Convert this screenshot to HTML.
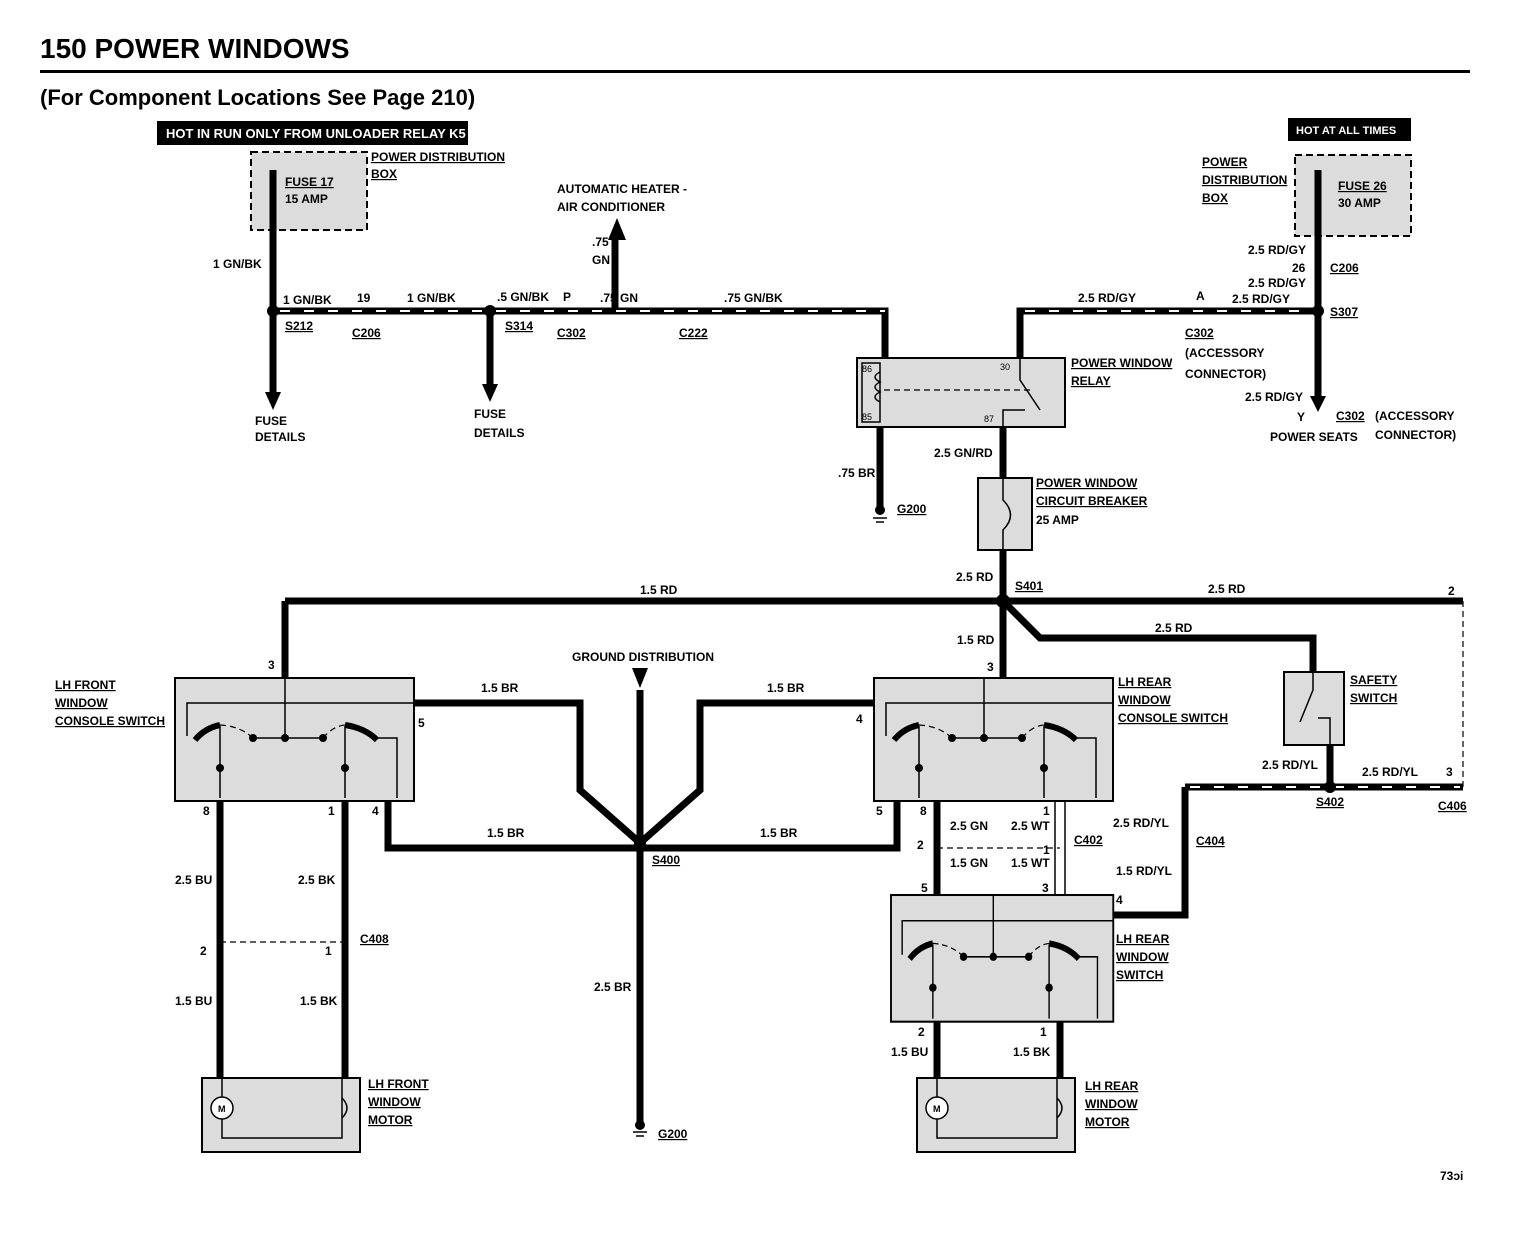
<!DOCTYPE html>
<html><head><meta charset="utf-8"><style>
body{margin:0;background:#fff}
svg{display:block;font-family:"Liberation Sans",sans-serif}
.t{font-size:12px;font-weight:bold;font-family:"Liberation Sans Narrow","Liberation Sans",sans-serif}
.u{text-decoration:underline}
.w{stroke:#000;stroke-width:7;fill:none}
.n{stroke:#000;stroke-width:1.5;fill:none}
.d{stroke:#000;stroke-width:1.2;fill:none;stroke-dasharray:6 4}
.b{fill:#dcdcdc;stroke:#000;stroke-width:2}
.s{stroke:#fff;stroke-width:2;stroke-dasharray:10 14;fill:none}
</style></head><body>
<svg width="1521" height="1238" viewBox="0 0 1521 1238">
<defs>
<g id="sw">
<rect class="b" x="0" y="0" width="239" height="123"/>
<path class="n" d="M110 0V58M12 58V25H239M45 120V48M170 120V48M200 60H222V120M78 60H148"/>
<path d="M20 62Q30 50 45 47" stroke="#000" stroke-width="6" fill="none"/>
<path d="M170 47Q190 50 202 62" stroke="#000" stroke-width="6" fill="none"/>
<path class="d" d="M45 47Q65 48 78 60M148 60Q158 48 170 47"/>
<circle cx="78" cy="60" r="4"/><circle cx="110" cy="60" r="4"/><circle cx="148" cy="60" r="4"/>
<circle cx="45" cy="90" r="4"/><circle cx="170" cy="90" r="4"/>
</g>
<g id="mot">
<rect class="b" x="0" y="0" width="158" height="74"/>
<path class="n" d="M20 0V60H140V0"/>
<circle cx="20" cy="30" r="11" fill="#fff" stroke="#000" stroke-width="1.5"/>
<text x="16" y="34" font-size="9" font-weight="bold">M</text>
<path class="n" d="M140 20Q150 30 140 40"/>
</g>
</defs>
<text x="40" y="58" font-size="28" font-weight="bold">150  POWER WINDOWS</text>
<rect x="40" y="70" width="1430" height="3"/>
<text x="40" y="105" font-size="22" font-weight="bold">(For Component Locations See Page 210)</text>
<rect x="157" y="121" width="311" height="24"/>
<text x="166" y="138" font-size="13" font-weight="bold" fill="#fff">HOT IN RUN ONLY FROM UNLOADER RELAY K5</text>
<rect x="1288" y="118" width="123" height="23"/>
<text x="1296" y="134" font-size="11" font-weight="bold" fill="#fff">HOT AT ALL TIMES</text>

<!-- fuse boxes -->
<rect x="251" y="152" width="116" height="78" fill="#dcdcdc" stroke="#000" stroke-width="2" stroke-dasharray="7 4"/>
<text class="t u" x="285" y="186">FUSE 17</text><text class="t" x="285" y="203" font-size="9">15 AMP</text>
<text class="t u" x="371" y="161">POWER DISTRIBUTION</text><text class="t u" x="371" y="178">BOX</text>
<rect x="1295" y="155" width="116" height="81" fill="#dcdcdc" stroke="#000" stroke-width="2" stroke-dasharray="7 4"/>
<text class="t u" x="1338" y="190">FUSE 26</text><text class="t" x="1338" y="207" font-size="9">30 AMP</text>
<text class="t u" x="1202" y="166">POWER</text><text class="t u" x="1202" y="184">DISTRIBUTION</text><text class="t u" x="1202" y="202">BOX</text>

<!-- top wires -->
<path class="w" d="M273 170V400M273 311H885V358M490 311V390M570 311H615V240M1020 358V311H1318M1318 170V400"/>
<path class="s" d="M280 311H885M1025 311H1312"/>
<polygon points="273,410 265,392 281,392"/><polygon points="490,402 482,384 498,384"/>
<polygon points="617,218 608,240 626,240"/><polygon points="1318,412 1310,396 1326,396"/>
<circle cx="273" cy="311" r="6"/><circle cx="490" cy="311" r="6"/><circle cx="1318" cy="311" r="6"/>
<text class="t" x="213" y="268">1 GN/BK</text><text class="t" x="283" y="304">1 GN/BK</text><text class="t" x="357" y="302">19</text>
<text class="t" x="407" y="302">1 GN/BK</text><text class="t" x="497" y="301">.5 GN/BK</text><text class="t" x="563" y="301">P</text>
<text class="t" x="600" y="302">.75 GN</text><text class="t" x="724" y="302">.75 GN/BK</text>
<text class="t u" x="285" y="330">S212</text><text class="t u" x="352" y="337">C206</text><text class="t u" x="505" y="330">S314</text>
<text class="t u" x="557" y="337">C302</text><text class="t u" x="679" y="337">C222</text>
<text class="t" x="592" y="246">.75</text><text class="t" x="592" y="264">GN</text>
<text class="t" x="557" y="193">AUTOMATIC HEATER -</text><text class="t" x="557" y="211">AIR CONDITIONER</text>
<text class="t" x="255" y="425">FUSE</text><text class="t" x="255" y="441">DETAILS</text>
<text class="t" x="474" y="418">FUSE</text><text class="t" x="474" y="437">DETAILS</text>
<text class="t" x="1248" y="254">2.5 RD/GY</text><text class="t" x="1292" y="272">26</text><text class="t u" x="1330" y="272">C206</text>
<text class="t" x="1248" y="287">2.5 RD/GY</text><text class="t" x="1078" y="302">2.5 RD/GY</text><text class="t" x="1196" y="300">A</text>
<text class="t" x="1232" y="303">2.5 RD/GY</text><text class="t u" x="1330" y="316">S307</text>
<text class="t u" x="1185" y="337">C302</text><text class="t" x="1185" y="357">(ACCESSORY</text><text class="t" x="1185" y="378">CONNECTOR)</text>
<text class="t" x="1245" y="401">2.5 RD/GY</text><text class="t" x="1297" y="421">Y</text><text class="t u" x="1336" y="420">C302</text>
<text class="t" x="1375" y="420">(ACCESSORY</text><text class="t" x="1270" y="441">POWER SEATS</text><text class="t" x="1375" y="439">CONNECTOR)</text>

<!-- relay -->
<rect class="b" x="857" y="358" width="208" height="69"/>
<path class="n" d="M862 363H880V422H862Z"/><path class="n" d="M880 372Q870 377 880 382Q870 387 880 392Q870 397 880 402"/>
<path class="d" d="M884 390H1030"/><path class="n" d="M1020 358V380L1040 410M1003 427V410H1025"/>
<text x="862" y="372" font-size="9">86</text><text x="862" y="420" font-size="9">85</text><text x="1000" y="370" font-size="9">30</text><text x="984" y="422" font-size="9">87</text>
<text class="t u" x="1071" y="367">POWER WINDOW</text><text class="t u" x="1071" y="385">RELAY</text>
<path class="w" d="M880 427V510M1003 427V478"/>
<circle cx="880" cy="510" r="5"/><path class="n" d="M873 518H887M876 522H884"/>
<text class="t" x="838" y="477">.75 BR</text><text class="t u" x="897" y="513">G200</text><text class="t" x="934" y="457">2.5 GN/RD</text>
<rect class="b" x="978" y="478" width="54" height="72"/><path class="n" d="M1003 478V500Q1018 515 1003 530V550"/>
<text class="t u" x="1036" y="487">POWER WINDOW</text><text class="t u" x="1036" y="505">CIRCUIT BREAKER</text><text class="t" x="1036" y="524" font-size="10">25 AMP</text>

<!-- main bus -->
<path class="w" d="M1003 550V680M285 601H1463M285 601V678M1003 601L1040 638H1313V672"/>
<circle cx="1003" cy="601" r="7"/>
<path class="d" d="M1463 601V790"/>
<text class="t" x="640" y="594">1.5 RD</text><text class="t" x="956" y="581">2.5 RD</text><text class="t u" x="1015" y="590">S401</text>
<text class="t" x="1208" y="593">2.5 RD</text><text class="t" x="1448" y="595">2</text><text class="t" x="957" y="644">1.5 RD</text>
<text class="t" x="1155" y="632">2.5 RD</text><text class="t" x="268" y="669">3</text><text class="t" x="987" y="671">3</text>

<!-- safety switch -->
<rect class="b" x="1284" y="672" width="60" height="73"/><path class="n" d="M1313 672V690L1300 722M1330 745V718H1318"/>
<text class="t u" x="1350" y="684">SAFETY</text><text class="t u" x="1350" y="702">SWITCH</text>
<path class="w" d="M1330 745V787M1185 787H1463M1185 787V915H1113"/>
<path class="s" d="M1190 787H1460"/>
<circle cx="1330" cy="787" r="6"/>
<text class="t" x="1262" y="769">2.5 RD/YL</text><text class="t" x="1362" y="776">2.5 RD/YL</text><text class="t" x="1446" y="776">3</text>
<text class="t u" x="1316" y="806">S402</text><text class="t u" x="1438" y="810">C406</text>
<text class="t" x="1113" y="827">2.5 RD/YL</text><text class="t u" x="1196" y="845">C404</text><text class="t" x="1116" y="875">1.5 RD/YL</text><text class="t" x="1116" y="904">4</text>

<!-- switches -->
<use href="#sw" x="175" y="678"/><use href="#sw" x="874" y="678"/>
<g transform="translate(891,895) scale(0.93,1.03)"><use href="#sw"/></g>
<text class="t u" x="55" y="689">LH FRONT</text><text class="t u" x="55" y="707">WINDOW</text><text class="t u" x="55" y="725">CONSOLE SWITCH</text>
<text class="t u" x="1118" y="686">LH REAR</text><text class="t u" x="1118" y="704">WINDOW</text><text class="t u" x="1118" y="722">CONSOLE SWITCH</text>
<text class="t u" x="1116" y="943">LH REAR</text><text class="t u" x="1116" y="961">WINDOW</text><text class="t u" x="1116" y="979">SWITCH</text>

<!-- ground -->
<polygon points="640,688 632,668 648,668"/>
<path class="w" d="M640 690V1125M414 703H580V790L640 843M874 703H700V790L640 843M388 801V848H897V801"/>
<circle cx="640" cy="843" r="6"/><circle cx="640" cy="1125" r="5"/><path class="n" d="M633 1132H647M636 1136H644"/>
<text class="t" x="572" y="661">GROUND DISTRIBUTION</text>
<text class="t" x="481" y="692">1.5 BR</text><text class="t" x="767" y="692">1.5 BR</text><text class="t" x="418" y="727">5</text><text class="t" x="856" y="723">4</text>
<text class="t" x="487" y="837">1.5 BR</text><text class="t" x="760" y="837">1.5 BR</text><text class="t u" x="652" y="864">S400</text>
<text class="t" x="594" y="991">2.5 BR</text><text class="t u" x="658" y="1138">G200</text>

<!-- front motor wires -->
<path class="w" d="M220 801V1078M345 801V1078"/>
<path class="d" d="M220 942H345"/>
<text class="t" x="203" y="815">8</text><text class="t" x="328" y="815">1</text><text class="t" x="372" y="815">4</text>
<text class="t" x="175" y="884">2.5 BU</text><text class="t" x="298" y="884">2.5 BK</text><text class="t" x="200" y="955">2</text><text class="t" x="325" y="955">1</text>
<text class="t u" x="360" y="943">C408</text><text class="t" x="175" y="1005">1.5 BU</text><text class="t" x="300" y="1005">1.5 BK</text>
<use href="#mot" x="202" y="1078"/>
<text class="t u" x="368" y="1088">LH FRONT</text><text class="t u" x="368" y="1106">WINDOW</text><text class="t u" x="368" y="1124">MOTOR</text>

<!-- rear wires -->
<path class="w" d="M937 801V895M937 1022V1078M1060 1022V1078"/>
<path class="n" d="M1055 801V895M1065 801V895"/>
<path class="d" d="M937 848H1060"/>
<text class="t" x="876" y="815">5</text><text class="t" x="920" y="815">8</text><text class="t" x="1043" y="815">1</text>
<text class="t" x="950" y="830">2.5 GN</text><text class="t" x="1011" y="830">2.5 WT</text><text class="t u" x="1074" y="844">C402</text>
<text class="t" x="917" y="849">2</text><text class="t" x="1043" y="854">1</text><text class="t" x="950" y="867">1.5 GN</text><text class="t" x="1011" y="867">1.5 WT</text>
<text class="t" x="921" y="892">5</text><text class="t" x="1042" y="892">3</text>
<text class="t" x="918" y="1036">2</text><text class="t" x="1040" y="1036">1</text><text class="t" x="891" y="1056">1.5 BU</text><text class="t" x="1013" y="1056">1.5 BK</text>
<use href="#mot" x="917" y="1078" transform="translate(0,0)"/>
<text class="t u" x="1085" y="1090">LH REAR</text><text class="t u" x="1085" y="1108">WINDOW</text><text class="t u" x="1085" y="1126">MOTOR</text>
<text class="t" x="1440" y="1180">73ɔi</text>
</svg>
</body></html>
